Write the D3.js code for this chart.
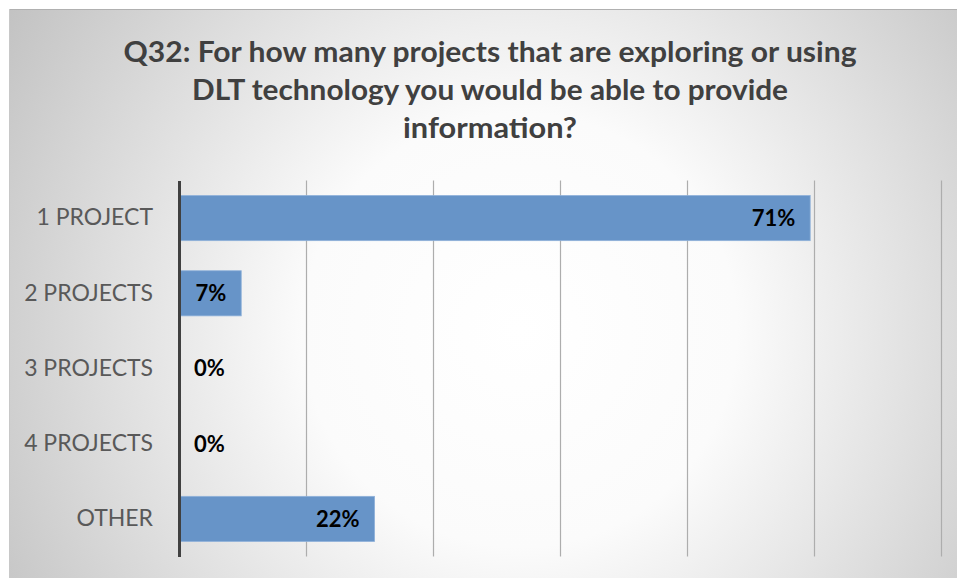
<!DOCTYPE html>
<html>
<head>
<meta charset="utf-8">
<script src="https://cdn.jsdelivr.net/npm/d3@7"></script>
<style>
  html, body { margin: 0; padding: 0; background: #ffffff; }
  svg { display: block; }
</style>
</head>
<body>
<svg id="chart" width="957" height="578"></svg>
<script>
// Survey answers (share of respondents, %)
const categories = ["1 PROJECT", "2 PROJECTS", "3 PROJECTS", "4 PROJECTS", "OTHER"];
const shares = [71, 7, 0, 0, 22];
const titleLines = [
  "Q32: For how many projects that are exploring or using",
  "DLT technology you would be able to provide",
  "information?"
];
// Value axis: six gridline intervals of one seventh each
const gridStep = 100 / 7;
const gridCount = 6;

const svg = d3.select("#chart");
const W = 957, H = 578;

// Chart area background with a soft radial fill
const defs = svg.append("defs");
const grad = defs.append("radialGradient")
  .attr("id", "bg")
  .attr("gradientUnits", "userSpaceOnUse")
  .attr("cx", 520).attr("cy", 330).attr("r", 620);
grad.append("stop").attr("offset", "0%").attr("stop-color", "#ffffff");
grad.append("stop").attr("offset", "35%").attr("stop-color", "#fbfbfb");
grad.append("stop").attr("offset", "100%").attr("stop-color", "#c0c0c0");

svg.append("rect")
  .attr("x", 9).attr("y", 9)
  .attr("width", W - 9).attr("height", H - 9)
  .attr("fill", "url(#bg)");
svg.append("line")
  .attr("x1", 9).attr("x2", W).attr("y1", 9.5).attr("y2", 9.5)
  .attr("stroke", "#b0b0b0").attr("stroke-width", 1);
svg.append("line")
  .attr("x1", 9.5).attr("x2", 9.5).attr("y1", 9).attr("y2", H)
  .attr("stroke", "#c8c8c8").attr("stroke-width", 1);

// Title
const titleWidths = [733, 596, 174];
const title = svg.append("g");
titleLines.forEach((t, i) => {
  title.append("text")
    .attr("x", 490)
    .attr("y", 62 + i * 38)
    .attr("text-anchor", "middle")
    .attr("font-family", "Lato, 'Open Sans', sans-serif")
    .attr("font-weight", "bold")
    .attr("font-size", 28)
    .attr("fill", "#404040")
    .attr("textLength", titleWidths[i])
    .attr("lengthAdjust", "spacingAndGlyphs")
    .text(t);
});

// Plot area
const plot = { left: 179, right: 941, top: 180.5, bottom: 556.5 };

const x = d3.scaleLinear()
  .domain([0, gridStep * gridCount])
  .range([plot.left, plot.right]);

const y = d3.scaleBand()
  .domain(categories)
  .range([plot.top, plot.bottom])
  .paddingInner(0.4)
  .paddingOuter(0.2);

// Vertical gridlines
const gridVals = d3.range(1, gridCount + 1).map(i => i * gridStep);
svg.append("g")
  .selectAll("line")
  .data(gridVals)
  .join("line")
  .attr("x1", d => Math.round(x(d)) + 0.5)
  .attr("x2", d => Math.round(x(d)) + 0.5)
  .attr("y1", plot.top)
  .attr("y2", plot.bottom)
  .attr("stroke", "#adadad")
  .attr("stroke-width", 1.2);

// Bars
svg.append("g")
  .selectAll("rect")
  .data(shares)
  .join("rect")
  .attr("x", x(0))
  .attr("y", (d, i) => y(categories[i]))
  .attr("width", d => x(d) - x(0))
  .attr("height", y.bandwidth())
  .attr("fill", "#6794c8")
  .attr("stroke", "#8fb1da")
  .attr("stroke-width", 0.8);

// Category axis
const yAxis = d3.axisLeft(y).tickSize(0).tickPadding(26);
const ya = svg.append("g")
  .attr("transform", `translate(${plot.left},0)`)
  .call(yAxis);
ya.select(".domain")
  .attr("stroke", "#404040")
  .attr("stroke-width", 3);
ya.selectAll("text")
  .attr("font-family", "Lato, 'Open Sans', sans-serif")
  .attr("font-size", 23)
  .attr("fill", "#595959");

// Value labels inside the bar ends
const labels = svg.append("g");
shares.forEach((v, i) => {
  const cy = y(categories[i]) + y.bandwidth() / 2;
  const inside = x(v) - x(0) > 50;
  labels.append("text")
    .attr("x", inside ? x(v) - 15 : x(0) + 15)
    .attr("y", cy)
    .attr("dy", "0.36em")
    .attr("text-anchor", inside ? "end" : "start")
    .attr("font-family", "Lato, 'Open Sans', sans-serif")
    .attr("font-weight", "bold")
    .attr("font-size", 22)
    .attr("fill", "#000000")
    .text(d3.format(".0f")(v) + "%");
});
</script>
</body>
</html>
